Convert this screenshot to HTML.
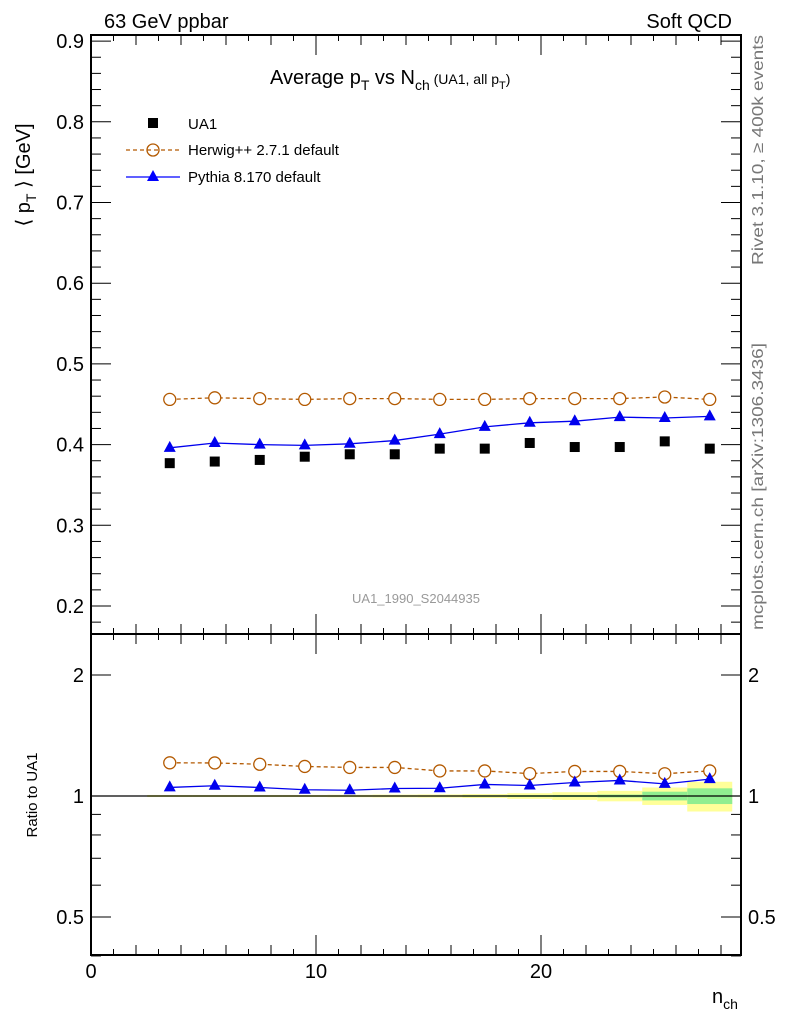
<!DOCTYPE html>
<html><head><meta charset="utf-8"><style>
body{margin:0;background:#fff}
svg{display:block;font-family:"Liberation Sans",sans-serif}
</style></head><body>
<svg id="c" width="786" height="1024" viewBox="0 0 786 1024">
<text x="104" y="28" font-size="20">63 GeV ppbar</text>
<text x="732" y="28" font-size="20" text-anchor="end">Soft QCD</text>
<text x="270" y="84" font-size="20">Average p<tspan font-size="14" dy="6">T</tspan><tspan dy="-6"> vs N</tspan><tspan font-size="14" dy="6">ch</tspan><tspan font-size="14" dy="-6"> (UA1, all p</tspan><tspan font-size="11" dy="5">T</tspan><tspan font-size="14" dy="-5">)</tspan></text>
<text transform="translate(30,175) rotate(-90)" font-size="20" text-anchor="middle">⟨ p<tspan font-size="14" dy="6">T</tspan><tspan dy="-6"> ⟩ [GeV]</tspan></text>
<text transform="translate(37,795) rotate(-90)" font-size="15" text-anchor="middle">Ratio to UA1</text>
<text x="712" y="1003" font-size="20">n<tspan font-size="14" dy="6">ch</tspan></text>
<text transform="translate(763,35) rotate(-90)" font-size="16" fill="#777" text-anchor="end" textLength="230" lengthAdjust="spacingAndGlyphs">Rivet 3.1.10, ≥ 400k events</text>
<text transform="translate(763,343) rotate(-90)" font-size="16" fill="#777" text-anchor="end" textLength="287" lengthAdjust="spacingAndGlyphs">mcplots.cern.ch [arXiv:1306.3436]</text>
<text x="416" y="603" font-size="13" fill="#999" text-anchor="middle">UA1_1990_S2044935</text>
<g id="bands"></g><g id="axes"></g><g id="marks"></g>
<g>
<rect x="148" y="118" width="10" height="10" fill="#000"/>
<text x="188" y="129" font-size="15">UA1</text>
<line x1="126" y1="150" x2="180" y2="150" stroke="#b35900" stroke-width="1.3" stroke-dasharray="4,3"/>
<circle cx="153" cy="150" r="6" fill="none" stroke="#b35900" stroke-width="1.3"/>
<text x="188" y="155" font-size="15">Herwig++ 2.7.1 default</text>
<line x1="126" y1="177" x2="180" y2="177" stroke="#00f" stroke-width="1.3"/>
<polygon points="153,170 159,181 147,181" fill="#00f"/>
<text x="188" y="182" font-size="15">Pythia 8.170 default</text>
</g>
</svg>
<script>
const nch=[3.5,5.5,7.5,9.5,11.5,13.5,15.5,17.5,19.5,21.5,23.5,25.5,27.5];
const ua1=[0.377,0.379,0.381,0.385,0.388,0.388,0.395,0.395,0.402,0.397,0.397,0.404,0.395];
const herwig=[0.456,0.458,0.457,0.456,0.457,0.457,0.456,0.456,0.457,0.457,0.457,0.459,0.456];
const pythia=[0.396,0.402,0.400,0.399,0.401,0.405,0.413,0.422,0.427,0.429,0.434,0.433,0.435];
const statErr=[0.003,0.003,0.003,0.003,0.003,0.003,0.003,0.004,0.005,0.006,0.008,0.025,0.045];
const totErr=[0.006,0.006,0.006,0.006,0.007,0.008,0.009,0.011,0.016,0.022,0.03,0.05,0.085];
const mainTicks=[0.2,0.3,0.4,0.5,0.6,0.7,0.8,0.9];
const ratioTicks=[0.5,1,2];
const xTicks=[0,10,20];
const NS="http://www.w3.org/2000/svg";
const X=v=>91+v*22.5, Y=v=>606-(v-0.2)*807, R=r=>796-121*Math.log2(r);
function mk(p,t,a){const e=document.createElementNS(NS,t);for(const k in a)e.setAttribute(k,a[k]);document.getElementById(p).appendChild(e);return e;}
nch.forEach((x,i)=>{
 let e=mk('bands','rect',{x:X(x-1),width:45,y:R(1+totErr[i]),height:R(1-totErr[i])-R(1+totErr[i]),fill:'#ffff99'});
 
 
 e=mk('bands','rect',{x:X(x-1),width:45,y:R(1+statErr[i]),height:R(1-statErr[i])-R(1+statErr[i]),fill:'#90ee90'});
 
 
});
[[35,634],[634,955]].forEach(([a,b],i)=>{const e=mk('axes','rect',{x:91,y:a,width:650,height:b-a,fill:'none',stroke:'#000','stroke-width':2});
 
 });
mk('axes','line',{x1:91,x2:741,y1:R(1),y2:R(1),stroke:'#000','stroke-width':1.3});
for(let v=0.18;v<=0.905;v+=0.02){const y=Y(v);const maj=Math.abs(v*10-Math.round(v*10))<1e-6;const L=maj?20:10;
 mk('axes','line',{x1:91,x2:91+L,y1:y,y2:y,stroke:'#000'});mk('axes','line',{x1:741,x2:741-L,y1:y,y2:y,stroke:'#000'});}
mainTicks.forEach(v=>{const t=mk('axes','text',{x:84,y:Y(v)+7,'font-size':20,'text-anchor':'end'});t.textContent=v.toFixed(1);
 
 });
[0.4,0.5,0.6,0.7,0.8,0.9,1,2].forEach(v=>{const y=R(v);const L=ratioTicks.includes(v)?20:10;
 mk('axes','line',{x1:91,x2:91+L,y1:y,y2:y,stroke:'#000'});mk('axes','line',{x1:741,x2:741-L,y1:y,y2:y,stroke:'#000'});});
ratioTicks.forEach(v=>{[[84,'end'],[748,'start']].forEach(([x,a])=>{const t=mk('axes','text',{x:x,y:R(v)+7,'font-size':20,'text-anchor':a});t.textContent=v;
 
 });});
for(let v=0;v<=28;v++){const x=X(v);const L=v%10==0?20:(v%2==0?10:6);
 [[634,-1],[634,1],[955,-1],[35,1]].forEach(([y,d])=>mk('axes','line',{x1:x,x2:x,y1:y,y2:y+d*L,stroke:'#000'}));}
xTicks.forEach(v=>{const t=mk('axes','text',{x:X(v),y:978,'font-size':20,'text-anchor':'middle'});t.textContent=v;
 
 });
function series(vals,fy,col,dash,shape,name){
 mk('marks','polyline',{points:nch.map((x,i)=>X(x)+','+fy(vals[i],i)).join(' '),fill:'none',stroke:col,'stroke-width':1.3,'stroke-dasharray':dash});
 nch.forEach((x,i)=>{const cx=X(x),cy=fy(vals[i],i);let e;
  if(shape=='c')e=mk('marks','circle',{cx:cx,cy:cy,r:6,fill:'#fff',stroke:col,'stroke-width':1.3});
  else e=mk('marks','polygon',{points:`${cx},${cy-7} ${cx+6},${cy+4} ${cx-6},${cy+4}`,fill:col});
  
  });
}
series(herwig,v=>Y(v),'#b35900','4,3','c','herwig-point');
series(pythia,v=>Y(v),'#0000ee','none','t','pythia-point');
series(herwig,(v,i)=>R(v/ua1[i]),'#b35900','4,3','c','herwig-ratio-point');
series(pythia,(v,i)=>R(v/ua1[i]),'#0000ee','none','t','pythia-ratio-point');
nch.forEach((x,i)=>{const e=mk('marks','rect',{x:X(x)-5,y:Y(ua1[i])-5,width:10,height:10,fill:'#000'});
 
 });
</script>
</body></html>
